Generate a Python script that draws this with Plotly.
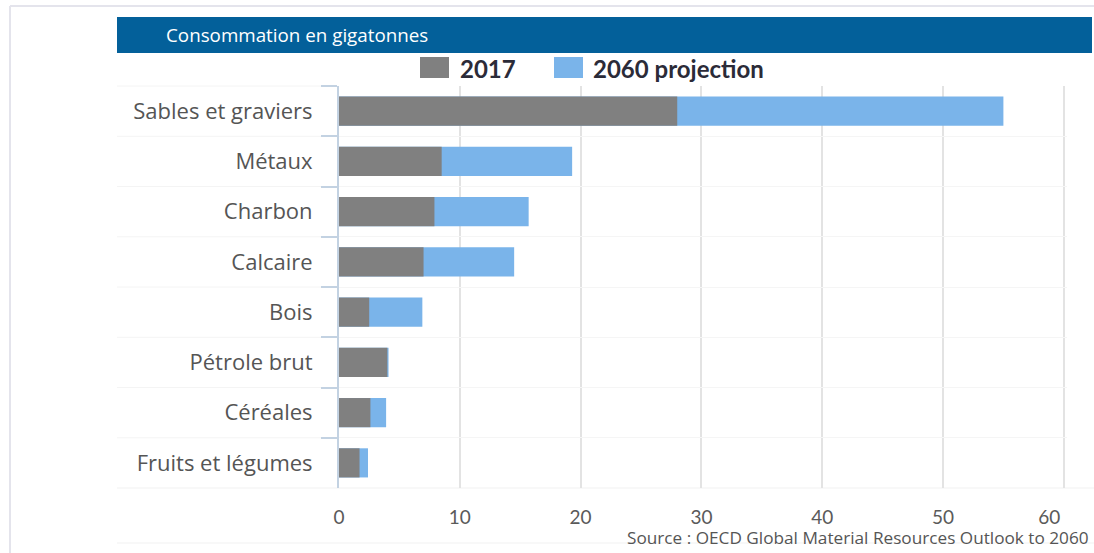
import plotly.graph_objects as go

categories = ["Sables et graviers", "Métaux", "Charbon", "Calcaire", "Bois",
              "Pétrole brut", "Céréales", "Fruits et légumes"]
values_2017 = [28.0, 8.5, 7.9, 7.0, 2.5, 4.0, 2.6, 1.7]
values_2060 = [55.0, 19.3, 15.7, 14.5, 6.9, 4.1, 3.9, 2.4]
series_names = ["2017", "2060 projection"]
x_ticks = [0, 10, 20, 30, 40, 50, 60]
title_text = "Consommation en gigatonnes"
source_text = "Source : OECD Global Material Resources Outlook to 2060"

W, H = 1094, 553
GRAY = "#808080"
BLUE = "#7ab4ea"
FONT = "Open Sans"


def px(x):
    return x / W


def py(y):
    return 1 - y / H


fig = go.Figure()
fig.add_trace(go.Bar(
    y=categories, x=values_2060, orientation="h", name=series_names[1],
    marker=dict(color=BLUE, line=dict(width=0)), showlegend=False,
))
fig.add_trace(go.Bar(
    y=categories, x=values_2017, orientation="h", name=series_names[0],
    marker=dict(color=GRAY, line=dict(width=0)), showlegend=False,
))

plot_left, plot_top, plot_bottom = 339, 86, 488
unit_px = 12.08
x_max = 60.3
plot_right = plot_left + x_max * unit_px

shapes = []
# outer frame lines
shapes.append(dict(type="line", xref="paper", yref="paper", x0=px(10), x1=1,
                   y0=py(6), y1=py(6), line=dict(color="#e4e4ec", width=2), layer="below"))
shapes.append(dict(type="line", xref="paper", yref="paper", x0=px(10), x1=px(10),
                   y0=py(6), y1=0, line=dict(color="#e4e4ec", width=2), layer="below"))
# title bar
shapes.append(dict(type="rect", xref="paper", yref="paper", x0=px(117), x1=px(1092),
                   y0=py(53), y1=py(17), fillcolor="#03609a", line=dict(width=0)))
# faint row separators
for yy in [plot_bottom, 543]:
    shapes.append(dict(type="line", xref="paper", yref="paper", x0=px(117), x1=1,
                       y0=py(yy), y1=py(yy), line=dict(color="#f1f1f1", width=1), layer="below"))
for i in range(len(categories) - 1):
    shapes.append(dict(type="line", xref="paper", yref="y", x0=px(117), x1=px(plot_left - 18),
                       y0=i + 0.5, y1=i + 0.5, line=dict(color="#f4f4f4", width=1), layer="below"))
shapes.append(dict(type="line", xref="paper", yref="paper", x0=px(117), x1=px(plot_left - 18),
                   y0=py(plot_top), y1=py(plot_top), line=dict(color="#f4f4f4", width=1), layer="below"))
# legend swatches
shapes.append(dict(type="rect", xref="paper", yref="paper", x0=px(420), x1=px(449),
                   y0=py(78), y1=py(57), fillcolor=GRAY, line=dict(width=0)))
shapes.append(dict(type="rect", xref="paper", yref="paper", x0=px(554), x1=px(583),
                   y0=py(78), y1=py(57), fillcolor=BLUE, line=dict(width=0)))

annotations = [
    dict(text=title_text, xref="paper", yref="paper", x=px(164), y=py(35),
         xanchor="left", yanchor="middle", showarrow=False,
         font=dict(family=FONT, size=18.8, color="white")),
    dict(text="<b>" + series_names[0] + "</b>", xref="paper", yref="paper", x=px(458), y=py(68),
         xanchor="left", yanchor="middle", showarrow=False,
         font=dict(family="Lato", size=24, color="#2b2b38")),
    dict(text="<b>" + series_names[1] + "</b>", xref="paper", yref="paper", x=px(591), y=py(68),
         xanchor="left", yanchor="middle", showarrow=False,
         font=dict(family="Lato", size=24, color="#2b2b38")),
    dict(text=source_text, xref="paper", yref="paper", x=px(1091), y=py(537),
         xanchor="right", yanchor="middle", showarrow=False,
         font=dict(family=FONT, size=17.2, color="#555555")),
]

tick_text = [str(v) for v in x_ticks]
tick_text[-1] = tick_text[-1] + "\u00a0" * 6

fig.update_layout(
    width=W, height=H,
    margin=dict(l=0, r=0, t=0, b=0, autoexpand=False),
    paper_bgcolor="white", plot_bgcolor="white",
    barmode="overlay", bargap=0.42,
    shapes=shapes, annotations=annotations,
    showlegend=False,
    font=dict(family=FONT),
    xaxis=dict(
        domain=[px(plot_left), px(plot_right)], range=[0, x_max],
        tickvals=x_ticks, ticktext=tick_text,
        showgrid=True, gridcolor="#e3e3e3", gridwidth=2,
        zeroline=False, showline=False, ticks="",
        ticklabelstandoff=16, automargin=False,
        tickfont=dict(family="Lato", size=19, color="#5a5a5a"),
        fixedrange=True,
    ),
    yaxis=dict(
        domain=[py(plot_bottom), py(plot_top)],
        categoryorder="array", categoryarray=categories, autorange="reversed",
        showline=True, linecolor="#c3d2e2", linewidth=2,
        ticks="outside", tickson="boundaries", ticklen=16, tickwidth=2, tickcolor="#c3d2e2",
        showgrid=True, gridcolor="#f5f5f5", gridwidth=1,
        ticklabelstandoff=20, automargin=False,
        tickfont=dict(family=FONT, size=22, color="#555555"),
        fixedrange=True,
    ),
)

fig.write_html("out.html", config={"displayModeBar": False})
